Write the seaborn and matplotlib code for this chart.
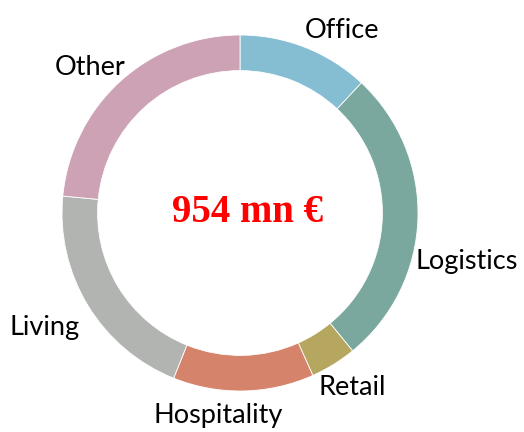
import matplotlib
matplotlib.use("Agg")
import matplotlib.pyplot as plt
import seaborn as sns

# Investment volume by sector (mn EUR), read from the ring
sectors = ["Office", "Logistics", "Retail", "Hospitality", "Living", "Other"]
volumes = [114, 259, 40, 122, 195, 224]
colors = ["#85bdd2", "#7aa89f", "#b5a660", "#d5836a", "#b2b4b2", "#cda2b4"]
total_label = "954 mn €"

# label anchors (data units, radius = 1)
label_pos = [(0.573, 1.028), (1.275, -0.275), (0.629, -0.983),
             (-0.124, -1.135), (-1.096, -0.646), (-0.843, 0.815)]

sns.set_theme(style="white")
plt.rcParams["font.family"] = ["Lato", "DejaVu Sans"]

fig = plt.figure(figsize=(5.24, 4.32), dpi=100)
ax = fig.add_axes([0, 0, 1, 1])

ax.pie(volumes, colors=sns.color_palette(colors), startangle=90, counterclock=False,
       radius=1, wedgeprops=dict(width=0.2, edgecolor="white", linewidth=0.6))

for name, (x, y) in zip(sectors, label_pos):
    ax.text(x, y, name, ha="center", va="center", fontsize=19.5, color="black")

ax.text(0.04, 0.0, total_label, ha="center", va="center", fontsize=28,
        fontweight="bold", color="red", family=["Liberation Serif", "DejaVu Serif"])

ax.set_xlim(-240 / 178, 284 / 178)
ax.set_ylim(-219 / 178, 213 / 178)
ax.set_aspect("equal")
ax.axis("off")

fig.savefig("out.png", dpi=100)
